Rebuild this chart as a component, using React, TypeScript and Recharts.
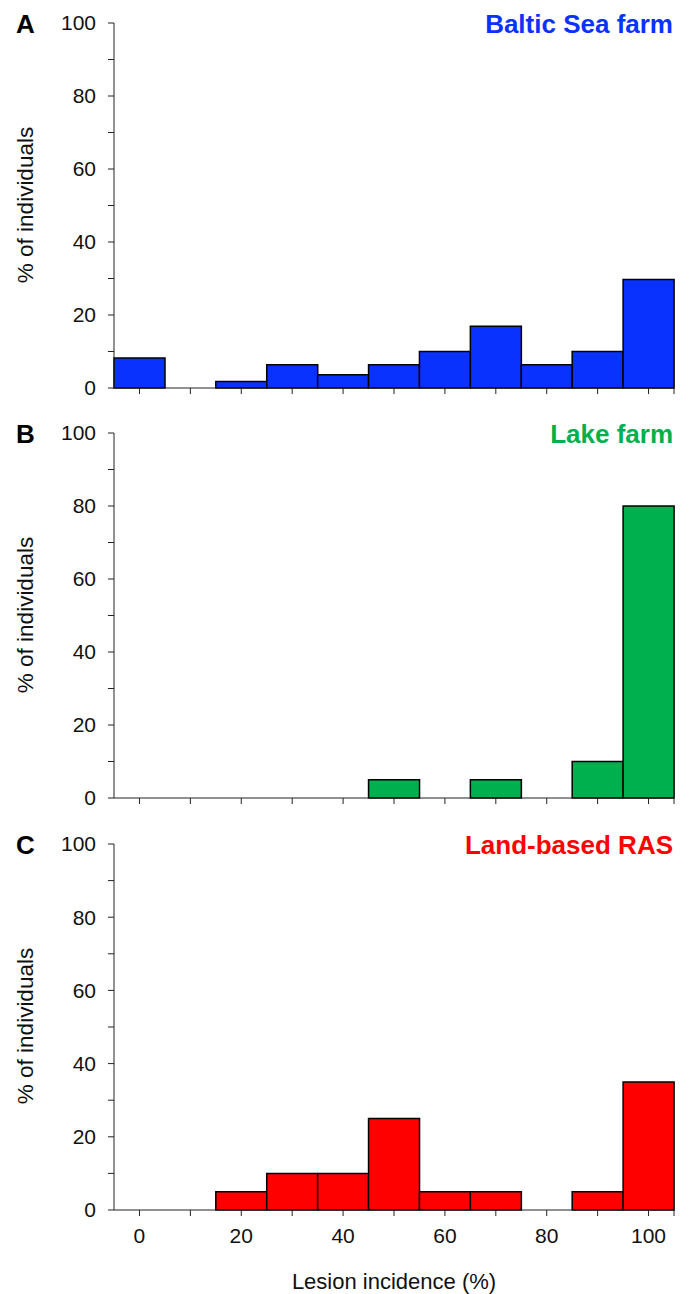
import { Bar, BarChart, XAxis, YAxis } from "recharts";

const BINS = [0, 10, 20, 30, 40, 50, 60, 70, 80, 90, 100];
const BALTIC = [8.2, 0, 1.8, 6.4, 3.6, 6.4, 10, 16.9, 6.4, 10, 29.7];
const LAKE = [0, 0, 0, 0, 0, 5, 0, 5, 0, 10, 80];
const LAND = [0, 0, 5, 10, 10, 25, 5, 5, 0, 5, 35];

const X_TICKS = [0, 10, 20, 30, 40, 50, 60, 70, 80, 90, 100, 105];
const Y_TICKS = [0, 10, 20, 30, 40, 50, 60, 70, 80, 90, 100];

const FONT = "'Liberation Sans', Arial, sans-serif";
const AXIS = "#222";
const W = 690;
const PLOT_LEFT = 114;
const PLOT_RIGHT = 674;

interface PanelProps {
  values: number[];
  color: string;
  top: number;
  height: number;
  bottom: number;
  xLabels: boolean;
}

function Panel({ values, color, top, height, bottom, xLabels }: PanelProps) {
  const data = BINS.map((bin, i) => ({ bin, v: values[i] }));
  return (
    <div style={{ position: "absolute", left: 0, top }}>
      <BarChart
        width={W}
        height={height}
        data={data}
        margin={{ top: 23, right: W - PLOT_RIGHT, left: 0, bottom: 0 }}
        barCategoryGap={0}
        barGap={0}
      >
        {/* bins as bands, one per bar */}
        <XAxis xAxisId="cat" type="category" dataKey="bin" hide height={0} />
        {/* visible numeric axis for the tick marks and labels */}
        <XAxis
          xAxisId="num"
          type="number"
          dataKey="bin"
          domain={[-5, 105]}
          ticks={X_TICKS}
          interval={0}
          height={bottom}
          tickSize={6}
          tickMargin={12}
          stroke={AXIS}
          tick={{ fontSize: 21, fill: "#111", fontFamily: FONT }}
          tickFormatter={(v: number) =>
            xLabels && v % 20 === 0 && v <= 100 ? String(v) : ""
          }
        />
        <YAxis
          type="number"
          domain={[0, 100]}
          ticks={Y_TICKS}
          interval={0}
          width={PLOT_LEFT}
          tickSize={6}
          tickMargin={12}
          stroke={AXIS}
          tick={{ fontSize: 21, fill: "#111", fontFamily: FONT }}
          tickFormatter={(v: number) => (v % 20 === 0 ? String(v) : "")}
        />
        <Bar
          xAxisId="cat"
          dataKey="v"
          fill={color}
          stroke="#000"
          strokeWidth={1.5}
          isAnimationActive={false}
        />
      </BarChart>
    </div>
  );
}

const PANELS = [
  { letter: "A", title: "Baltic Sea farm", color: "#0a32ff", values: BALTIC, top: 0, plotTop: 23 },
  { letter: "B", title: "Lake farm", color: "#00b04f", values: LAKE, top: 410, plotTop: 433 },
  { letter: "C", title: "Land-based RAS", color: "#ff0000", values: LAND, top: 821, plotTop: 844 },
];

export default function App() {
  return (
    <div
      style={{
        position: "absolute",
        left: 0,
        top: 0,
        width: W,
        height: 1294,
        background: "#fff",
        fontFamily: FONT,
      }}
    >
      <Panel values={BALTIC} color={PANELS[0].color} top={0} height={411} bottom={23} xLabels={false} />
      <Panel values={LAKE} color={PANELS[1].color} top={410} height={411} bottom={23} xLabels={false} />
      <Panel values={LAND} color={PANELS[2].color} top={821} height={473} bottom={84} xLabels={true} />
      <svg
        width={W}
        height={1294}
        style={{ position: "absolute", left: 0, top: 0, pointerEvents: "none" }}
      >
        {PANELS.map((p) => (
          <g key={p.letter}>
            <text x={16} y={p.plotTop + 10} fontSize={26} fontWeight="bold" fill="#000" fontFamily={FONT}>
              {p.letter}
            </text>
            <text
              x={673}
              y={p.plotTop + 10}
              fontSize={26}
              fontWeight="bold"
              fill={p.color}
              textAnchor="end"
              fontFamily={FONT}
            >
              {p.title}
            </text>
            <text
              x={33}
              y={p.plotTop + 182}
              fontSize={22.5}
              fill="#111"
              textAnchor="middle"
              fontFamily={FONT}
              transform={`rotate(-90 33 ${p.plotTop + 182})`}
            >
              % of individuals
            </text>
          </g>
        ))}
        <text x={394} y={1289} fontSize={22} fill="#111" textAnchor="middle" fontFamily={FONT}>
          Lesion incidence (%)
        </text>
      </svg>
    </div>
  );
}
